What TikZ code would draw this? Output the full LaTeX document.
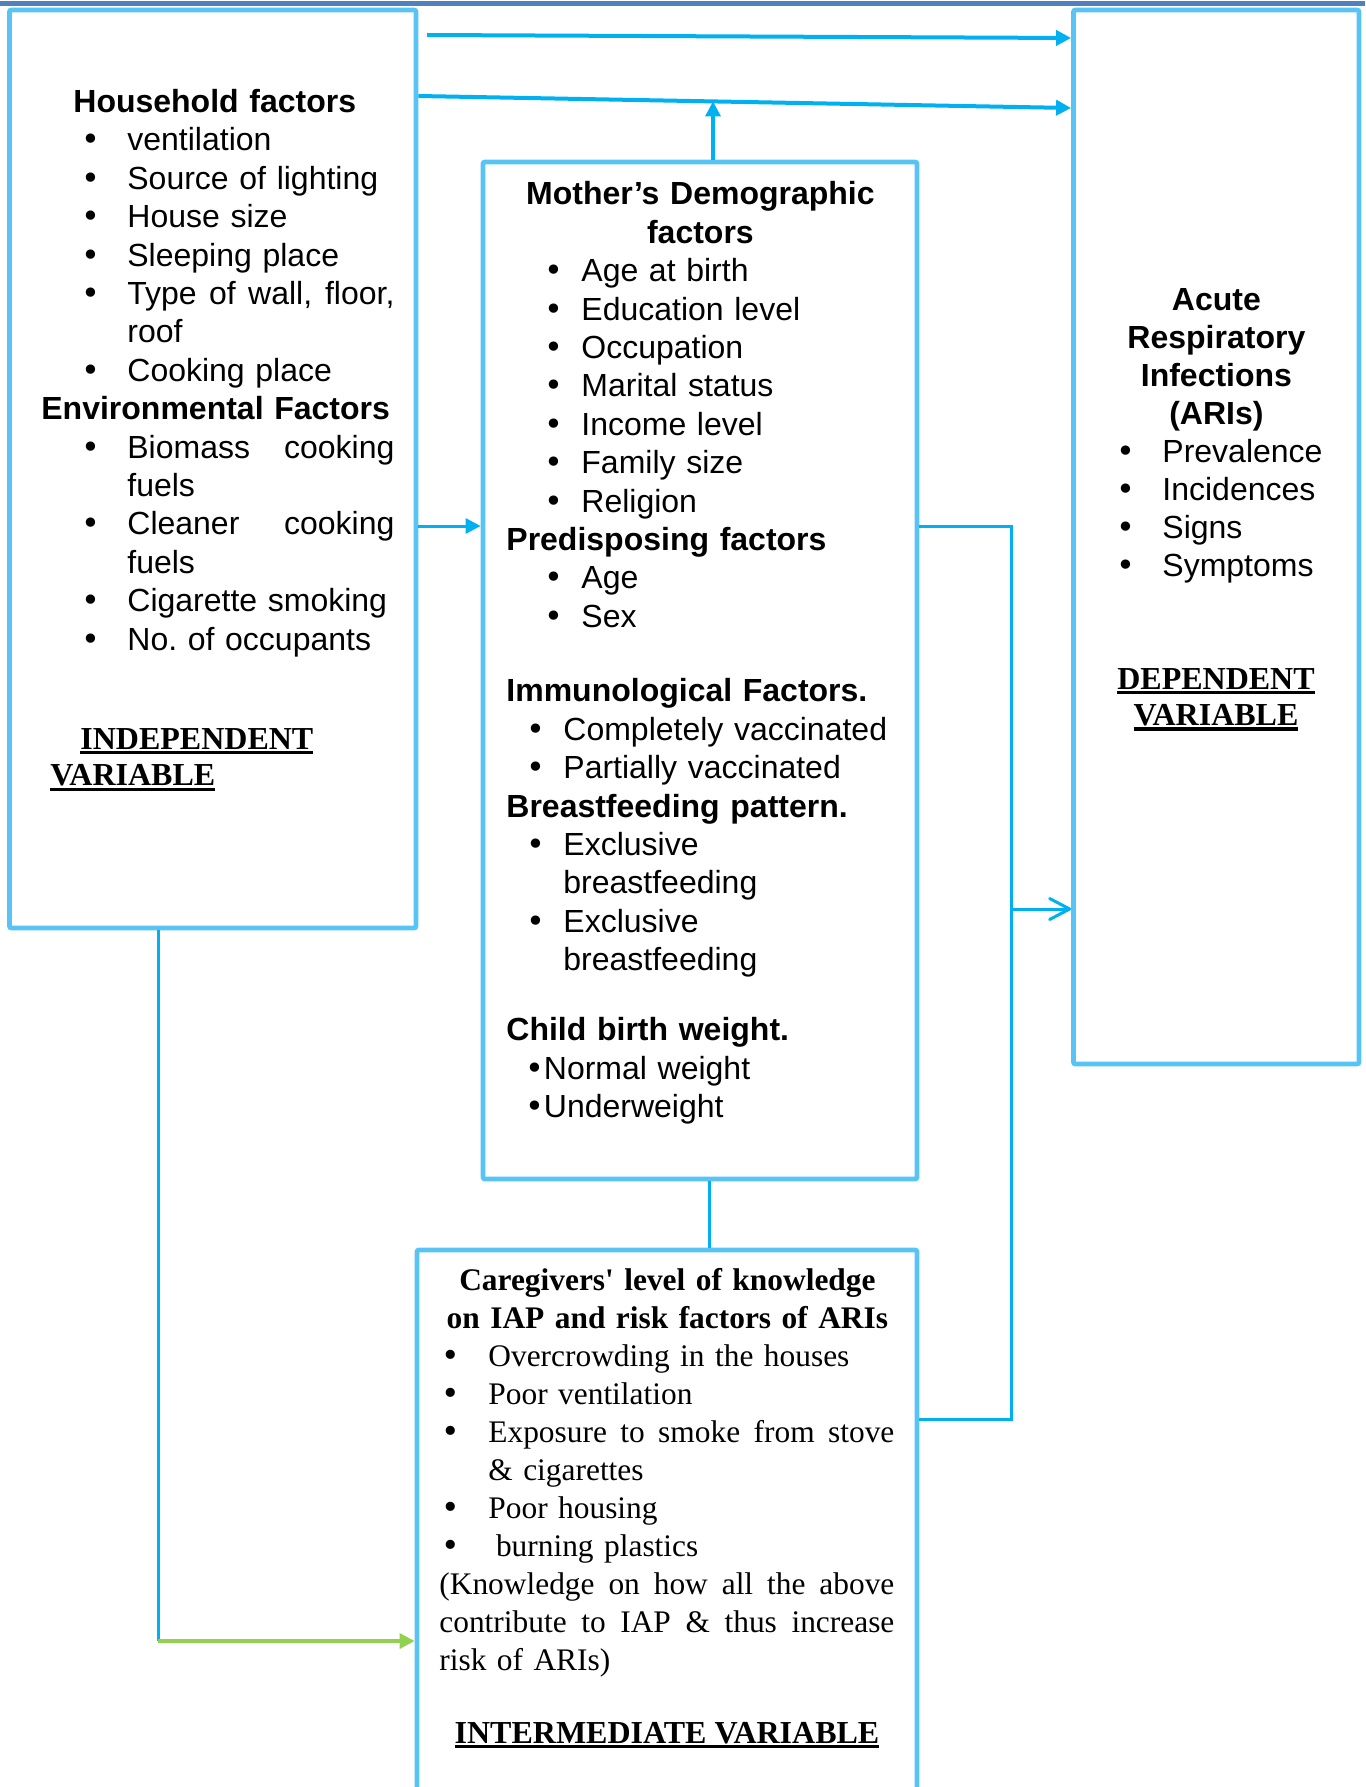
\documentclass[tikz,border=0pt]{standalone}
\usepackage{fontspec}
\setmainfont{Liberation Serif}
\newfontfamily\arial{Liberation Sans}
\newfontfamily\dejavu{DejaVu Sans}
\usepackage{tikz}
\usetikzlibrary{arrows.meta, positioning}
\usepackage{xcolor}

\definecolor{boxblue}{HTML}{58C4F6}
\definecolor{lineblue}{HTML}{00B0F0}
\definecolor{arrgreen}{HTML}{92D050}
\definecolor{rulecol}{HTML}{4F81BD}

% bullet line: bullet indent, text indent, text
\newcommand{\bull}{{\dejavu\textbullet}}
\newcommand{\li}[3]{\makebox[#2][l]{\hspace*{#1}\bull}#3}
% justified line
\newcommand{\jline}[2]{\makebox[#1][s]{\spaceskip=.3333em plus 1fil\xspaceskip=.3333em plus 1fil\relax #2}}
\newsavebox{\ulbox}
\newcommand{\ulbf}[1]{\leavevmode\sbox\ulbox{\textbf{#1}}\rlap{\rule[-2.6pt]{\wd\ulbox}{1.6pt}}\usebox\ulbox}

\begin{document}
\begin{tikzpicture}[x=0.5pt, y=-0.5pt,
    frame/.style={draw=boxblue, line width=2.4pt, rounded corners=1pt, anchor=north west, inner sep=0pt, outer sep=1.2pt},
    sans/.style={font=\arial\fontsize{16}{19.2}\selectfont, anchor=base west, align=left, inner sep=0pt},
    serif/.style={font=\fontsize{15.7}{19}\selectfont, anchor=base west, align=left, inner sep=0pt},
    conn/.style={draw=lineblue, line width=1.5pt},
    arr/.style={conn, -{Triangle[length=7.5pt, width=7.5pt]}}]
    \useasboundingbox (0,0) rectangle (1365,1787);
    \clip (0,0) rectangle (1365,1787);
    \draw[rulecol, line width=2.4pt] (0,3.3) -- (1365,3.3);

    % boxes
    \node[frame, minimum width=203.25pt, minimum height=459pt] (hh) at (7.1,7.6) {};
    \node[frame, minimum width=217pt, minimum height=508.5pt] (mom) at (480.6,159.6) {};
    \node[frame, minimum width=142.75pt, minimum height=527pt] (ari) at (1071.1,7.6) {};
    \node[frame, minimum width=250pt, minimum height=275pt] (care) at (414.6,1247.6) {};

    % household
    \node[sans, text width=180pt] (hhtext) at (41,112.5) {%
        \hspace*{16pt}\textbf{Household factors}\\
        \li{20.2pt}{43pt}{ventilation}\\
        \li{20.2pt}{43pt}{Source of lighting}\\
        \li{20.2pt}{43pt}{House size}\\
        \li{20.2pt}{43pt}{Sleeping place}\\
        \li{20.2pt}{43pt}{\jline{133.5pt}{Type of wall, floor,}}\\
        \hspace*{43pt}roof\\
        \li{20.2pt}{43pt}{Cooking place}\\
        \textbf{Environmental Factors}\\
        \li{20.2pt}{43pt}{\jline{133.5pt}{Biomass cooking}}\\
        \hspace*{43pt}fuels\\
        \li{20.2pt}{43pt}{\jline{133.5pt}{Cleaner cooking}}\\
        \hspace*{43pt}fuels\\
        \li{20.2pt}{43pt}{Cigarette smoking}\\
        \li{20.2pt}{43pt}{No.\ of occupants}};
    \node[serif, text width=150pt, font=\fontsize{16}{18.3}\selectfont] (indep) at (50,749) {%
        \hspace*{15pt}\ulbf{INDEPENDENT}\\
        \ulbf{VARIABLE}};

    % mother
    \node[sans, text width=196pt] (momtext) at (506,205) {%
        \makebox[194pt][c]{\textbf{Mother’s Demographic}}\\
        \makebox[194pt][c]{\textbf{factors}}\\
        \li{19.2pt}{37.5pt}{Age at birth}\\
        \li{19.2pt}{37.5pt}{Education level}\\
        \li{19.2pt}{37.5pt}{Occupation}\\
        \li{19.2pt}{37.5pt}{Marital status}\\
        \li{19.2pt}{37.5pt}{Income level}\\
        \li{19.2pt}{37.5pt}{Family size}\\
        \li{19.2pt}{37.5pt}{Religion}\\
        \textbf{Predisposing factors}\\
        \li{19.2pt}{37.5pt}{Age}\\
        \li{19.2pt}{37.5pt}{Sex}\\[18pt]
        \textbf{Immunological Factors.}\\
        \li{10.2pt}{28.5pt}{Completely vaccinated}\\
        \li{10.2pt}{28.5pt}{Partially vaccinated}\\
        \textbf{Breastfeeding pattern.}\\
        \li{10.2pt}{28.5pt}{Exclusive}\\
        \hspace*{28.5pt}breastfeeding\\
        \li{10.2pt}{28.5pt}{Exclusive}\\
        \hspace*{28.5pt}breastfeeding\\[16pt]
        \textbf{Child birth weight.}\\
        \li{9.7pt}{18.75pt}{Normal weight}\\
        \li{9.7pt}{18.75pt}{Underweight}};

    % outcome
    \node[sans, text width=120pt, font=\arial\fontsize{16}{19}\selectfont] (aritext) at (1100,310) {%
        \makebox[116pt][c]{\textbf{Acute}}\\
        \makebox[116pt][c]{\textbf{Respiratory}}\\
        \makebox[116pt][c]{\textbf{Infections}}\\
        \makebox[116pt][c]{\textbf{(ARIs)}}\\
        \li{8.2pt}{31pt}{Prevalence}\\
        \li{8.2pt}{31pt}{Incidences}\\
        \li{8.2pt}{31pt}{Signs}\\
        \li{8.2pt}{31pt}{Symptoms}};
    \node[serif, text width=130pt, align=center, anchor=base, font=\fontsize{16}{18.2}\selectfont] (dep) at (1216,689) {%
        \ulbf{DEPENDENT}\\
        \ulbf{VARIABLE}};

    % caregivers
    \node[serif, text width=230pt] (caretext) at (439,1290) {%
        \makebox[228pt][c]{\textbf{Caregivers\textquotesingle{} level of knowledge}}\\
        \makebox[228pt][c]{\textbf{on IAP and risk factors of ARIs}}\\
        \li{1.2pt}{24.5pt}{Overcrowding in the houses}\\
        \li{1.2pt}{24.5pt}{Poor ventilation}\\
        \li{1.2pt}{24.5pt}{\jline{203pt}{Exposure to smoke from stove}}\\
        \hspace*{24.5pt}\& cigarettes\\
        \li{1.2pt}{24.5pt}{Poor housing}\\
        \li{1.2pt}{28.3pt}{burning plastics}\\
        \jline{227.5pt}{(Knowledge on how all the above}\\
        \jline{227.5pt}{contribute to IAP \& thus increase}\\
        risk of ARIs)};
    \node[serif, anchor=base, font=\fontsize{16}{19}\selectfont] (interm) at (667,1743) {\ulbf{INTERMEDIATE VARIABLE}};

    % connectors
    \coordinate (t1) at (427,35);
    \coordinate (t2) at (0,38);
    \coordinate (a1) at (0,96);
    \coordinate (a2) at (0,108);
    \coordinate (up) at (713,101.4);
    \coordinate (m1) at (0,526);
    \coordinate (r1) at (1011,526);
    \coordinate (r2) at (1011,1419);
    \coordinate (r3) at (1011,909);
    \coordinate (d1) at (709,0);
    \coordinate (g1) at (158,1641);
    \draw[arr, line width=2pt] (t1) -- (ari.west |- t2);
    \draw[arr, line width=2pt] (hh.east |- a1) -- (ari.west |- a2);
    \draw[arr, line width=1.6pt] (mom.north -| up) -- (up);
    \draw[arr] (hh.east |- m1) -- (mom.west |- m1);
    \draw[conn] (mom.east |- r1) -- (r1) -- (r2) -- (care.east |- r2);
    \draw[conn, -{Straight Barb[length=10pt, width=10.5pt, round]}] (r3) -- (ari.west |- r3);
    \draw[conn] (mom.south -| d1) -- (care.north -| d1);
    \draw[conn] (hh.south -| g1) -- (g1);
    \draw[arr, draw=arrgreen, line width=1.6pt] (g1) -- (care.west |- g1);
\end{tikzpicture}
\end{document}
